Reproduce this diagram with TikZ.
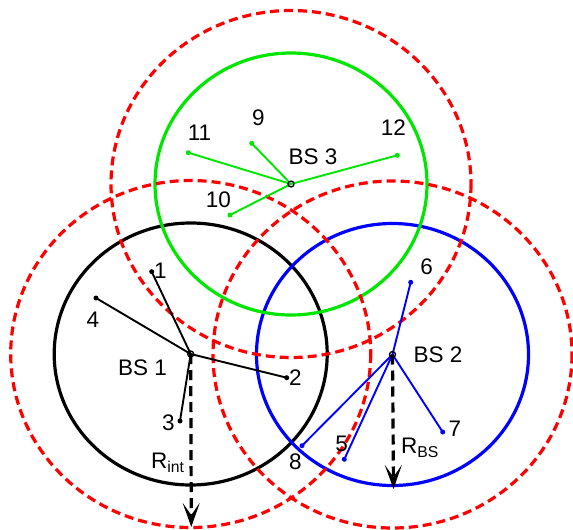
\documentclass[tikz,border=0pt]{standalone}
\usepackage{fontspec}
\setmainfont{Liberation Sans}
\usetikzlibrary{arrows.meta}
\definecolor{mgreen}{RGB}{0,230,0}
\definecolor{mred}{RGB}{255,0,0}
\definecolor{mblue}{RGB}{0,0,255}
\begin{document}
\begin{tikzpicture}[x=1pt,y=-1pt,
  cell/.style={line width=3.2pt},
  intf/.style={mred,line width=3.2pt,dash pattern=on 9pt off 5pt},
  link/.style={line width=1.9pt},
  ue/.style={circle,fill,inner sep=0pt,minimum size=5pt},
  bsdot/.style={circle,draw=black,line width=1.3pt,inner sep=0pt,minimum size=6pt},
  lbl/.style={font=\fontsize{22.5}{25}\selectfont,inner sep=0pt},
  rarrow/.style={line width=3.2pt,dash pattern=on 10pt off 6pt,-{Stealth[length=24pt,width=17pt,inset=12pt]}}]
\useasboundingbox (0,0) rectangle (573,530);
% base stations
\coordinate (b1) at (190.7,354);
\coordinate (b2) at (392.5,354.5);
\coordinate (b3) at (291,184);
% cell circles
\draw[cell,black] (b1) ellipse [x radius=136.5,y radius=131];
\draw[cell,mblue] (b2) ellipse [x radius=136,y radius=131];
\draw[cell,mgreen] (b3) ellipse [x radius=136,y radius=131];
% interference circles
\draw[intf] (b1) ellipse [x radius=180,y radius=173.5];
\draw[intf] (b2) ellipse [x radius=179.5,y radius=173.5];
\draw[intf] (b3) ellipse [x radius=180,y radius=173.5];
% users BS1
\node[ue,black] (u1) at (151.7,271.7) {};
\node[ue,black] (u2) at (286.7,377.7) {};
\node[ue,black] (u3) at (180,421) {};
\node[ue,black] (u4) at (96,298) {};
% users BS2
\node[ue,mblue] (u5) at (344.3,459.3) {};
\node[ue,mblue] (u6) at (410.7,282.3) {};
\node[ue,mblue] (u7) at (442.7,432) {};
\node[ue,mblue] (u8) at (302,445.7) {};
% users BS3
\node[ue,mgreen] (u9) at (251.7,143.3) {};
\node[ue,mgreen] (u10) at (230,215) {};
\node[ue,mgreen] (u11) at (188.3,152.7) {};
\node[ue,mgreen] (u12) at (397.3,155.3) {};
% links
\foreach \u in {u1,u2,u3,u4} \draw[link,black] (b1) -- (\u.center);
\foreach \u in {u5,u6,u7,u8} \draw[link,mblue] (b2) -- (\u.center);
\foreach \u in {u9,u10,u11,u12} \draw[link,mgreen] (b3) -- (\u.center);
% radius arrows
\coordinate (e1) at (191.3,527);
\coordinate (e2) at (393.5,489);
\draw[rarrow] (b1) -- (e1);
\draw[rarrow] (b2) -- (e2);
% BS markers
\node[bsdot] (m1) at (b1) {};
\node[bsdot] (m2) at (b2) {};
\node[bsdot] (m3) at (b3) {};
% labels
\node[lbl] (t1) at (160.5,271) {1};
\node[lbl] (t2) at (295.5,378) {2};
\node[lbl] (t3) at (168.3,423) {3};
\node[lbl] (t4) at (93,320) {4};
\node[lbl] (t5) at (341.7,444) {5};
\node[lbl] (t6) at (426.7,267) {6};
\node[lbl] (t7) at (455,429) {7};
\node[lbl] (t8) at (295.5,462) {8};
\node[lbl] (t9) at (258.3,118) {9};
\node[lbl] (t10) at (218.5,200) {10};
\node[lbl] (t11) at (199.5,132.5) {11};
\node[lbl] (t12) at (393.3,128) {12};
\node[lbl] (s1) at (142.5,368) {BS 1};
\node[lbl] (s2) at (438,354.5) {BS 2};
\node[lbl] (s3) at (313,157) {BS 3};
\node[lbl,anchor=west] (ri) at (151,463) {R\textsubscript{int}};
\node[lbl,anchor=west] (rb) at (401,448) {R\textsubscript{BS}};
\end{tikzpicture}
\end{document}
